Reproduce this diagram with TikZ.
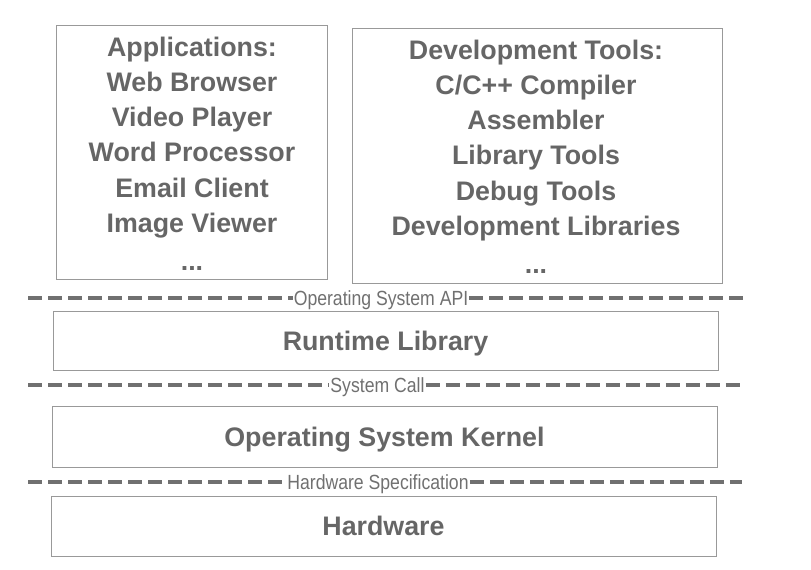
\documentclass[tikz,border=0pt]{standalone}
\usepackage{fontspec}
\setmainfont{Liberation Sans}
\newfontfamily\labelfont[FakeStretch=0.86]{Liberation Sans}
\definecolor{inkgray}{HTML}{666666}
\definecolor{boxgray}{HTML}{999999}
\definecolor{dashgray}{HTML}{707070}
\begin{document}
\begin{tikzpicture}[x=1bp,y=-1bp,
  layerbox/.style={draw=boxgray,line width=0.9bp,inner sep=0pt},
  bigtext/.style={text=inkgray,font=\bfseries\fontsize{26.8bp}{35.1bp}\selectfont,align=center,inner sep=0pt},
  layertext/.style={layerbox,bigtext,text height=19.2bp,text depth=0pt},
  sepline/.style={draw=dashgray,line width=3.3bp,dash pattern=on 14bp off 6bp},
  seplabel/.style={text=dashgray,font=\labelfont\fontsize{20.5bp}{22bp}\selectfont,inner sep=1bp,text height=14.7bp,text depth=0pt}
]
\useasboundingbox (0,0) rectangle (811,570);
% upper boxes
\node[layerbox,minimum width=271bp,minimum height=254bp] (apps) at (191.5,152) {};
\node[layerbox,minimum width=370bp,minimum height=255bp] (dev) at (537,155.5) {};
\node[bigtext,anchor=north] (appstext) at (192,37) {Applications:\\Web Browser\\Video Player\\Word Processor\\Email Client\\Image Viewer\\[3bp]...};
\node[bigtext,anchor=north] (devtext) at (536,40) {Development Tools:\\C/C++ Compiler\\Assembler\\Library Tools\\Debug Tools\\Development Libraries\\[3bp]...};
% layer boxes
\node[layertext,minimum width=665bp,minimum height=59bp] (runtime) at (385.5,340.5) {Runtime Library};
\node[layertext,minimum width=665bp,minimum height=61bp] (kernel) at (384.5,436.5) {Operating System Kernel};
\node[layertext,minimum width=665bp,minimum height=60bp] (hardware) at (383.5,526) {Hardware};
% separator lines
\node[seplabel] (api) at (381,298) {Operating System API};
\node[seplabel] (syscall) at (377.5,385) {System Call};
\node[seplabel] (hwspec) at (378,482) {Hardware Specification};
\coordinate (apiL) at (28,298);
\coordinate (apiR) at (745,298);
\coordinate (scL) at (28,385);
\coordinate (scR) at (743,385);
\coordinate (hwL) at (28,482);
\coordinate (hwR) at (742,482);
\draw[sepline] (apiL) -- (api.west);
\draw[sepline] (api.east) -- (apiR);
\draw[sepline] (scL) -- (syscall.west);
\draw[sepline] (syscall.east) -- (scR);
\draw[sepline] (hwL) -- (hwspec.west);
\draw[sepline] (hwspec.east) -- (hwR);
\end{tikzpicture}
\end{document}
